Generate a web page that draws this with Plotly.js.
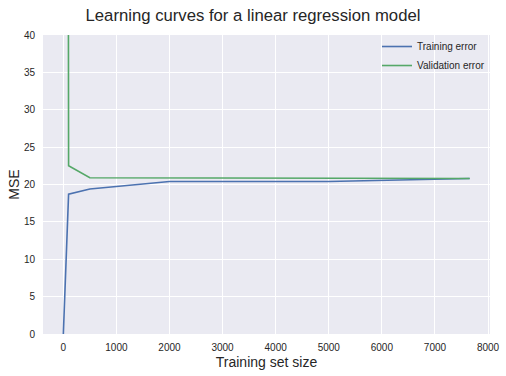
<!DOCTYPE html>
<html>
<head>
<meta charset="utf-8">
<script src="https://cdn.plot.ly/plotly-3.0.1.min.js"></script>
<style>html,body{margin:0;padding:0;background:#fff;}#chart{width:506px;height:376px;}</style>
</head>
<body>
<div id="chart"></div>
<script>
const trainSizes = [1, 100, 500, 2000, 5000, 7654];
const trainingError = [0, 18.7, 19.4, 20.4, 20.4, 20.8];
const validationError = [600, 22.5, 20.9, 20.9, 20.85, 20.8];
const xTicks = [0, 1000, 2000, 3000, 4000, 5000, 6000, 7000, 8000];
const yTicks = [0, 5, 10, 15, 20, 25, 30, 35, 40];

const data = [
  {x: trainSizes, y: trainingError, mode: 'lines', name: 'Training error',
   line: {color: '#4C72B0', width: 1.6}},
  {x: trainSizes, y: validationError, mode: 'lines', name: 'Validation error',
   line: {color: '#55A868', width: 1.6}}
];
const font = {family: 'Liberation Sans, Arial, sans-serif', color: '#262626'};
const layout = {
  width: 506, height: 376,
  margin: {l: 43, r: 16, t: 35, b: 42},
  paper_bgcolor: '#ffffff', plot_bgcolor: '#EAEAF2',
  font: Object.assign({size: 10}, font),
  title: {text: 'Learning curves for a linear regression model', x: 0.5, xanchor: 'center', y: 0.96, yanchor: 'middle',
          font: Object.assign({}, font, {size: 16.7})},
  xaxis: {range: [-382, 8037], tickvals: xTicks, ticktext: xTicks.map(String), gridcolor: '#ffffff', gridwidth: 1,
          zeroline: false, showline: false, ticks: 'outside', ticklen: 4, tickcolor: 'rgba(0,0,0,0)',
          title: {text: 'Training set size', font: Object.assign({}, font, {size: 14}), standoff: 5},
          tickfont: Object.assign({}, font, {size: 10})},
  yaxis: {range: [0, 40], tickvals: yTicks, ticktext: yTicks.map(String), gridcolor: '#ffffff', gridwidth: 1,
          zeroline: false, showline: false, ticks: 'outside', ticklen: 5, tickcolor: 'rgba(0,0,0,0)',
          title: {text: 'MSE', font: Object.assign({}, font, {size: 14}), standoff: 0},
          tickfont: Object.assign({}, font, {size: 10})},
  showlegend: true,
  legend: {x: 1.0, y: 1.01, xanchor: 'right', yanchor: 'top', bgcolor: 'rgba(0,0,0,0)', borderwidth: 0,
           tracegroupgap: 0, font: Object.assign({}, font, {size: 10})}
};
Plotly.newPlot('chart', data, layout, {displayModeBar: false, staticPlot: true});
</script>
</body>
</html>
